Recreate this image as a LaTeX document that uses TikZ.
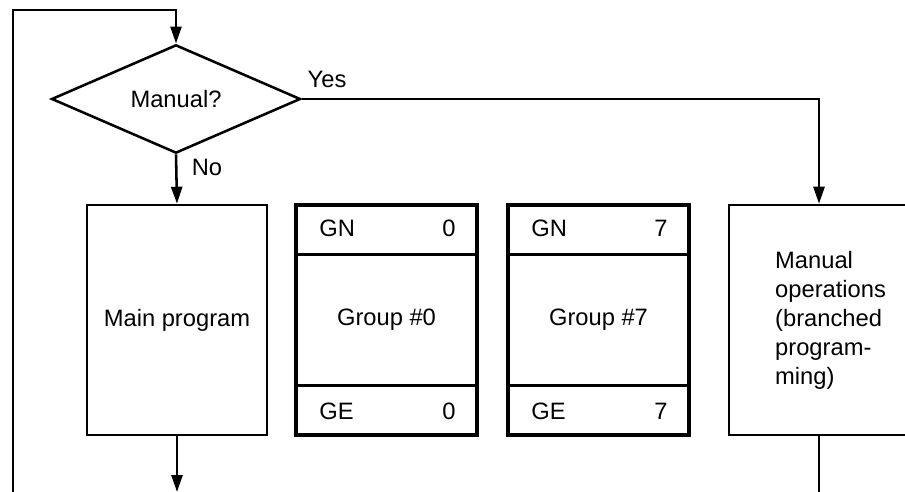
\documentclass[tikz,border=0pt]{standalone}
\usepackage{fontspec}
\setmainfont{Liberation Sans}
\usetikzlibrary{shapes.geometric,arrows.meta}
\tikzset{
  flow/.style={line width=1.45pt},
  arr/.style={flow,-{Triangle[length=0.34cm,width=0.22cm]}},
  decision/.style={diamond,draw,flow,inner sep=0pt,minimum width=4.98cm,minimum height=1.94cm},
  prog/.style={draw,flow,inner sep=0pt,minimum width=3.6cm,minimum height=4.6cm},
  grp/.style={draw,line width=2pt,inner sep=0pt,minimum width=3.62cm,minimum height=4.6cm},
}
\begin{document}
\begin{tikzpicture}[x=0.02cm,y=-0.02cm,font=\fontsize{13.5}{16.5}\selectfont]
  \useasboundingbox (0,0) rectangle (905,492);
  \node[decision] (manual) at (176,99) {Manual?};
  \node[prog] (main) at (177,320) {Main program};
  \node[grp] (g0) at (386.5,320) {};
  \node[grp] (g7) at (598.5,320) {};
  \node[prog] (hand) at (819,320) {};
  \node[anchor=west,align=left] (handtext) at (769,320) {Manual\\operations\\(branched\\program-\\ming)};
  % group boxes
  \foreach \g/\n in {g0/0,g7/7}{
    \draw[flow] ([yshift=-1.02cm]\g.north west) -- ([yshift=-1.02cm]\g.north east);
    \draw[flow] ([yshift=1.02cm]\g.south west) -- ([yshift=1.02cm]\g.south east);
    \node[anchor=west] (\g gn) at ([shift={(0.38cm,-0.5cm)}]\g.north west) {GN};
    \node[anchor=east] (\g gnn) at ([shift={(-0.34cm,-0.5cm)}]\g.north east) {\n};
    \node[anchor=west] (\g ge) at ([shift={(0.38cm,0.5cm)}]\g.south west) {GE};
    \node[anchor=east] (\g gen) at ([shift={(-0.34cm,0.5cm)}]\g.south east) {\n};
    \node (\g name) at (\g) {Group \#\n};
  }
  % connectors
  \coordinate (loopin) at (13,495);
  \coordinate (looptop) at (13,10);
  \coordinate (mainout) at (177,492);
  \coordinate (handout) at (819,495);
  \draw[arr] (loopin) -- (looptop) -| (manual.north);
  \draw[arr] (manual.east) -| (hand.north);
  \draw[arr] (manual.south) -- (main.north);
  \draw[arr] (main.south) -- (mainout);
  \draw[flow] (hand.south) -- (handout);
  \node (yes) at (327,79) {Yes};
  \node (no) at (207,167) {No};
\end{tikzpicture}
\end{document}
